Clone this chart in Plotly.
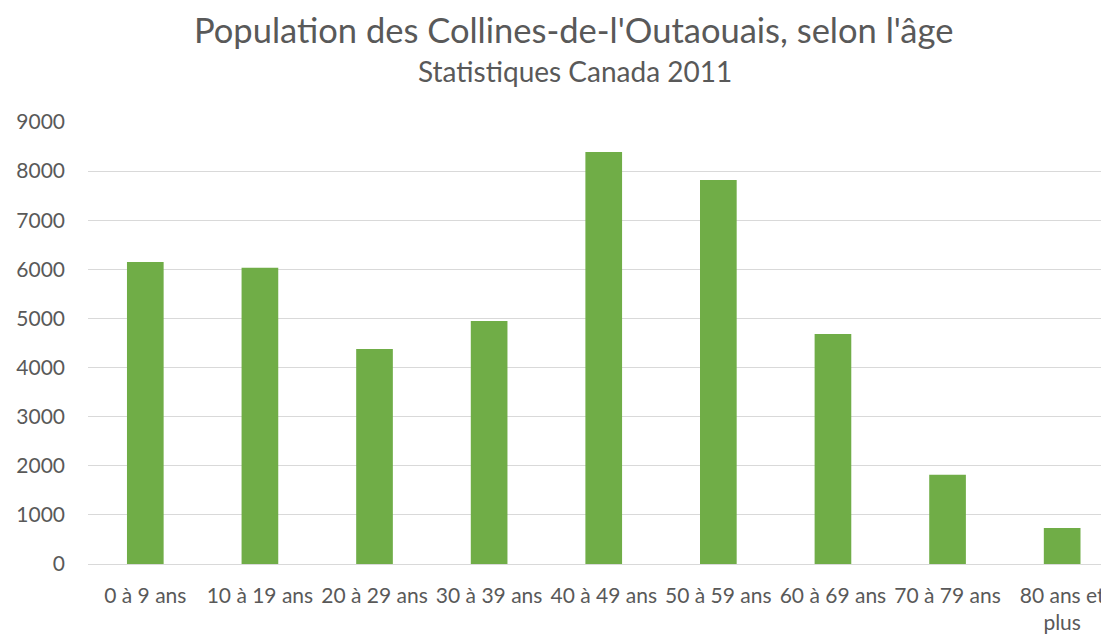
import plotly.graph_objects as go

categories = ["0 à 9 ans", "10 à 19 ans", "20 à 29 ans", "30 à 39 ans", "40 à 49 ans",
              "50 à 59 ans", "60 à 69 ans", "70 à 79 ans", "80 ans et<br>plus"]
population = [6150, 6030, 4380, 4950, 8390, 7820, 4685, 1815, 735]
y_ticks = [0, 1000, 2000, 3000, 4000, 5000, 6000, 7000, 8000, 9000]

FONT = "Lato"
GREY = "#595959"

fig = go.Figure(go.Bar(x=list(range(len(categories))), y=population,
                       marker=dict(color="#70AD47", line=dict(width=0))))

W = 1024.5
fig.update_layout(
    width=1109, height=635,
    margin=dict(l=77, r=8, t=114, b=79),
    paper_bgcolor="white", plot_bgcolor="white",
    bargap=0.68,
    showlegend=False,
    font=dict(family=FONT, color=GREY, size=21),
    annotations=[
        dict(text="Population des Collines-de-l'Outaouais, selon l'âge", xref="paper", yref="paper",
             x=(572 - 84.5) / W, y=1 + (122 - 29) / 442, xanchor="center", yanchor="middle",
             showarrow=False, font=dict(family=FONT, size=34.5, color=GREY)),
        dict(text="Statistiques Canada 2011", xref="paper", yref="paper",
             x=(573 - 84.5) / W, y=1 + (122 - 71) / 442, xanchor="center", yanchor="middle",
             showarrow=False, font=dict(family=FONT, size=28, color=GREY)),
    ],
)
fig.update_xaxes(tickvals=list(range(len(categories))), ticktext=categories,
                 range=[-0.5, 8.5 - 10.5 / 115], showgrid=False, zeroline=False,
                 showline=False, ticks="", tickfont=dict(size=21, color=GREY), tickangle=0,
                 ticklabelstandoff=17)
fig.update_yaxes(range=[0, 9000], tickvals=y_ticks, showgrid=True, gridcolor="#D9D9D9",
                 gridwidth=1.3, zeroline=True, zerolinecolor="#D9D9D9", zerolinewidth=1.3,
                 showline=False, ticks="", ticklabelstandoff=22,
                 tickfont=dict(size=21, color=GREY))

fig.write_html("out.html")
